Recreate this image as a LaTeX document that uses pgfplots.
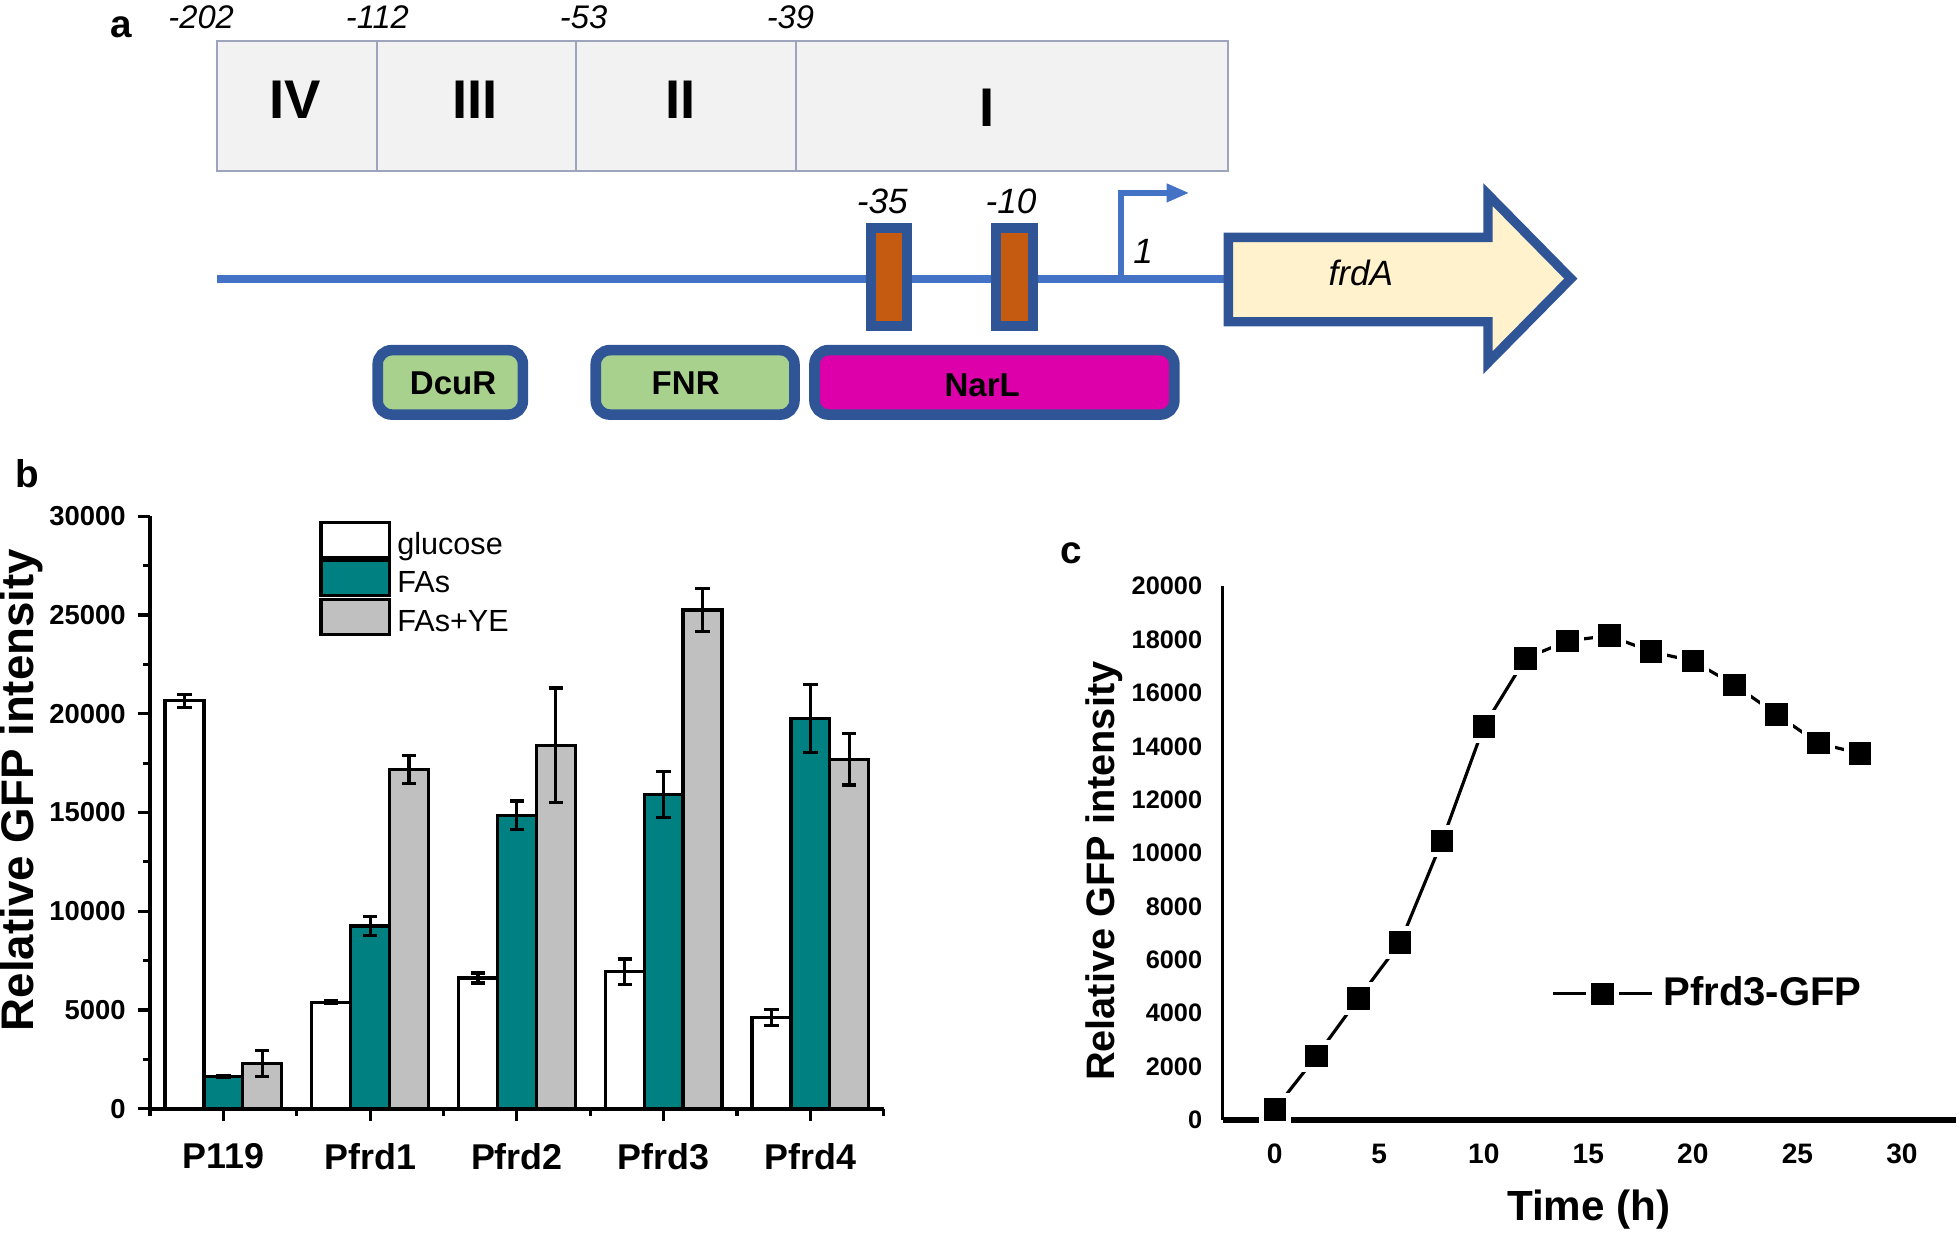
\documentclass[border=0pt]{standalone}
\usepackage{fontspec}
\setmainfont{Liberation Sans}
\usepackage{pgfplots}
\pgfplotsset{compat=1.18}
\pgfkeys{/pgf/number format/.cd, assume math mode=true, 1000 sep={}}

\definecolor{boxfill}{HTML}{F2F2F2}
\definecolor{boxline}{HTML}{9DA5BD}
\definecolor{dnablue}{HTML}{4472C4}
\definecolor{darkblue}{HTML}{2F5597}
\definecolor{orangebox}{HTML}{C55A11}
\definecolor{greenbox}{HTML}{A9D18E}
\definecolor{magentabox}{HTML}{DD00AA}
\definecolor{cream}{HTML}{FFF2CC}
\definecolor{teal}{HTML}{008080}
\definecolor{bargray}{HTML}{C0C0C0}

\newcommand{\fs}[1]{\fontsize{#1}{#1}\selectfont}

\begin{document}
\begin{tikzpicture}
\path[use as bounding box] (0,0) rectangle (19.6,12.36);

% panel a: promoter scheme (units: pixels of a 1568 x 989 grid)
\begin{scope}[shift={(0cm,12.36cm)}, x=0.0125cm, y=-0.0125cm]
\draw[boxline, fill=boxfill, line width=0.02cm] (173.6,33) rectangle (982.4,137);
\draw[boxline, line width=0.02cm] (301.4,33)--(301.4,137) (461,33)--(461,137) (636.8,33)--(636.8,137);
\node[font=\itshape\fs{9.3}] at (161,14) {-202};
\node[font=\itshape\fs{9.3}] at (302,14) {-112};
\node[font=\itshape\fs{9.3}] at (467,14) {-53};
\node[font=\itshape\fs{9.3}] at (632.5,14) {-39};
\node[font=\bfseries\fs{15.5}] at (236,80) {IV};
\node[font=\bfseries\fs{15.5}] at (380,80) {III};
\node[font=\bfseries\fs{15.5}] at (544.7,80) {II};
\node[font=\bfseries\fs{15.5}] at (790,86) {I};

\draw[dnablue, line width=0.075cm] (173.6,223.3) -- (984,223.3);
\draw[dnablue, line width=0.056cm] (897,225) -- (897,154.4) -- (936,154.4);
\fill[dnablue] (933.6,146.7) -- (951,154.4) -- (933.6,162.1) -- cycle;
\node[font=\itshape\fs{10}] at (914.7,201) {1};

\draw[darkblue, fill=orangebox, line width=0.1cm] (696.8,182.7) rectangle (726.1,260.5);
\draw[darkblue, fill=orangebox, line width=0.1cm] (797.3,182.7) rectangle (826.7,260.5);
\node[font=\itshape\fs{10}] at (706,161.3) {-35};
\node[font=\itshape\fs{10}] at (809,161.3) {-10};

\draw[darkblue, fill=cream, line width=0.094cm, miter limit=10]
  (983,190) -- (1190.7,190) -- (1190.7,155.7) -- (1257,223) -- (1190.7,290.2)
  -- (1190.7,257.5) -- (983,257.5) -- cycle;
\node[font=\itshape\fs{10}] at (1089,218.7) {frdA};

\draw[darkblue, fill=greenbox, line width=0.106cm, rounded corners=0.14cm] (302.25,280.25) rectangle (418.45,331.75);
\draw[darkblue, fill=greenbox, line width=0.106cm, rounded corners=0.14cm] (476.75,280.25) rectangle (635.75,331.75);
\draw[darkblue, fill=magentabox, line width=0.106cm, rounded corners=0.14cm] (651.75,280.25) rectangle (939.75,331.75);
\node[font=\bfseries\fs{9.4}] at (362.6,306.7) {DcuR};
\node[font=\bfseries\fs{9.4}] at (548.7,306.7) {FNR};
\node[font=\bfseries\fs{9.4}] at (786,308) {NarL};

\node[font=\bfseries\fs{11}] at (97,22) {a};
\node[font=\bfseries\fs{11}] at (22,379) {b};
\node[font=\bfseries\fs{11}] at (857,443) {c};
\end{scope}

% panel b: bars drawn at their own x (group centre -0.265, 0, +0.265)
\begin{axis}[
  at={(1.5cm,1.2725cm)}, anchor=south west,
  scale only axis, width=7.3375cm, height=5.925cm,
  xmin=-0.5, xmax=4.5, ymin=0, ymax=30000,
  axis x line*=bottom, axis y line*=left,
  axis line style={-, line width=1.1pt},
  tick align=outside,
  xtick={0,...,4}, xticklabels={P119,Pfrd1,Pfrd2,Pfrd3,Pfrd4},
  minor xtick={-0.5,0.5,...,4.5},
  ytick={0,5000,...,30000}, minor y tick num=1,
  major tick length=0.12cm, minor tick length=0.07cm,
  tick style={black, line width=0.9pt},
  scaled y ticks=false,
  xticklabel style={font=\bfseries\fs{10.2}, yshift=-0.1cm},
  yticklabel style={font=\bfseries\fs{7.8}},
  ylabel={Relative GFP intensity},
  ylabel style={font=\bfseries\fs{13}, at={(rel axis cs:-0.1755,0.538)}, anchor=center},
  legend style={draw=none, fill=none, at={(0.231,0.9926)}, anchor=north west,
    font=\fs{8.7}, inner sep=0pt, outer sep=0pt, row sep=-0.07cm, column sep=0.06cm,
    nodes={inner sep=0pt, text height=0.26cm, text depth=0.12cm}},
  legend cell align=left,
  legend image code/.code={\draw[#1, line width=0.9pt] (0cm,-0.1cm) rectangle (0.6875cm,0.25cm);},
  error bars/y dir=both, error bars/y explicit,
  error bars/error bar style={line width=0.9pt, black},
  error bars/error mark options={rotate=90, mark size=0.072cm, line width=0.9pt, black},
]
\addplot[ybar, bar width=0.265, bar shift=0, fill=white, draw=black, line width=0.9pt]
  coordinates {(-0.265,20650) +- (0,340) (0.735,5400) +- (0,60) (1.735,6620) +- (0,250) (2.735,6930) +- (0,650) (3.735,4630) +- (0,400)};
\addlegendentry{glucose}
\addplot[ybar, bar width=0.265, bar shift=0, fill=teal, draw=black, line width=0.9pt]
  coordinates {(0,1640) +- (0,40) (1,9250) +- (0,480) (2,14850) +- (0,730) (3,15900) +- (0,1170) (4,19750) +- (0,1730)};
\addlegendentry{FAs}
\addplot[ybar, bar width=0.265, bar shift=0, fill=bargray, draw=black, line width=0.9pt]
  coordinates {(0.265,2300) +- (0,650) (1.265,17180) +- (0,700) (2.265,18400) +- (0,2900) (3.265,25250) +- (0,1100) (4.265,17700) +- (0,1310)};
\addlegendentry{FAs+YE}
\end{axis}

% panel c
\begin{axis}[
  at={(12.225cm,1.16cm)}, anchor=south west,
  scale only axis, width=7.3375cm, height=5.3375cm,
  xmin=-2.5, xmax=32.6, ymin=0, ymax=20000,
  axis x line*=bottom, axis y line*=left,
  x axis line style={-, line width=1.5pt},
  y axis line style={-, line width=1.1pt},
  xtick={0,5,...,30}, ytick={0,2000,...,20000},
  major tick length=0pt,
  scaled y ticks=false,
  clip=false,
  xticklabel style={font=\bfseries\fs{8}, yshift=-0.115cm},
  yticklabel style={font=\bfseries\fs{7.2}, xshift=-0.08cm},
  xlabel={Time (h)},
  xlabel style={font=\bfseries\fs{12}, at={(rel axis cs:0.499,-0.1686)}, anchor=center},
  ylabel={Relative GFP intensity},
  ylabel style={font=\bfseries\fs{11.3}, at={(rel axis cs:-0.1618,0.466)}, anchor=center},
  legend style={draw=none, fill=none, at={(0.447,0.2365)}, anchor=west,
    font=\bfseries\fs{11.4}, inner sep=0pt, column sep=0.1cm, nodes={inner sep=0pt}},
  legend image code/.code={\draw[mark repeat=2,mark phase=2,#1] plot coordinates {(0cm,0cm) (0.495cm,0cm) (0.99cm,0cm)};},
]
\addplot[black, line width=0.9pt, mark=square*, mark size=0.1375cm,
  mark options={solid, fill=black, draw=white, line width=0.05cm}]
  coordinates {(0,400) (2,2400) (4,4550) (6,6650) (8,10450) (10,14750) (12,17300) (14,17950)
  (16,18150) (18,17550) (20,17200) (22,16300) (24,15200) (26,14120) (28,13730)};
\addlegendentry{Pfrd3-GFP}
\end{axis}
\end{tikzpicture}
\end{document}
